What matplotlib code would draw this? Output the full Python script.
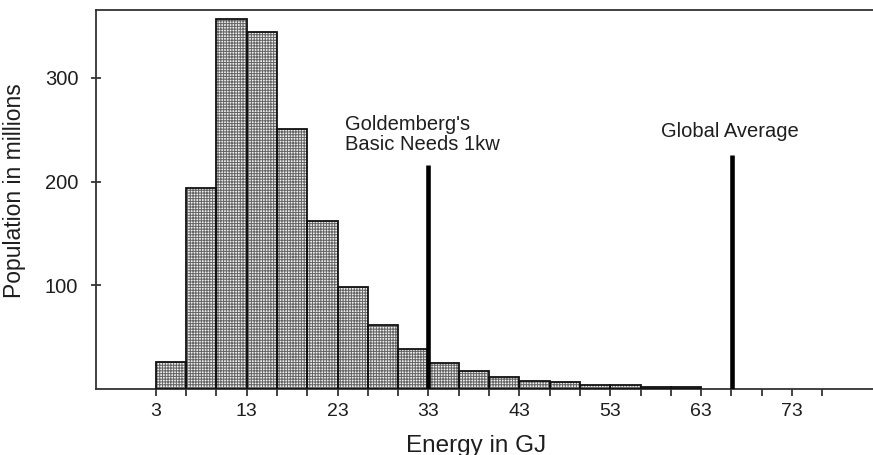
import matplotlib
matplotlib.use("Agg")
import matplotlib.pyplot as plt

# Population distribution by per-capita energy use
bin_left = [3.0, 6.333, 9.667, 13.0, 16.333, 19.667, 23.0, 26.333, 29.667,
            33.0, 36.333, 39.667, 43.0, 46.333, 49.667, 53.0, 56.333, 59.667]
bin_width = 10 / 3
population = [26, 194, 357, 344, 251, 162, 98, 62, 39,
              25, 17, 12, 8, 6.5, 4, 4, 2.2, 2.2]

# Reference markers
marker_x = [33.0, 66.4]
marker_top = [216, 226]

x_major = [3, 13, 23, 33, 43, 53, 63, 73]
x_minor = [6.333, 9.667, 16.333, 19.667, 26.333, 29.667, 36.333, 39.667,
           46.333, 49.667, 56.333, 59.667, 66.333, 69.667, 76.333]
y_ticks = [100, 200, 300]

plt.rcParams["font.family"] = ["Liberation Sans", "DejaVu Sans"]
plt.rcParams["hatch.linewidth"] = 0.75
plt.rcParams["hatch.color"] = "#666666"

fig = plt.figure(figsize=(8.73, 4.55), dpi=100)
ax = fig.add_axes([95.7 / 873, 66 / 455, 1 - 95.7 / 873, 379 / 455])

# hatched fill, then black outlines on top
ax.bar(bin_left, population, width=bin_width, align="edge",
       facecolor="#f3f3f3", hatch="++++++", linewidth=0, zorder=2)
ax.bar(bin_left, population, width=bin_width, align="edge",
       fill=False, edgecolor="#111111", linewidth=1.3, zorder=3)

ax.vlines(marker_x, 0, marker_top, colors="black", linewidth=3.3, zorder=4)

ax.text(23.8, 249.5, "Goldemberg's", fontsize=14.5, color="#1e1e1e",
        va="baseline", ha="left")
ax.text(23.8, 230.5, "Basic Needs 1kw", fontsize=14.5, color="#1e1e1e",
        va="baseline", ha="left")
ax.text(58.6, 243.3, "Global Average", fontsize=14.5, color="#1e1e1e",
        va="baseline", ha="left")

ax.set_xlim(-3.6, 81.9)
ax.set_ylim(0, 365.5)

ax.set_xticks(x_major)
ax.set_xticklabels([str(v) for v in x_major])
ax.set_xticks(x_minor, minor=True)
ax.set_yticks(y_ticks)
ax.set_yticklabels([str(v) for v in y_ticks])

ax.tick_params(axis="x", which="both", direction="out", length=5,
               width=1.2, color="#222222", pad=5, labelsize=14,
               labelcolor="#1e1e1e")
ax.tick_params(axis="y", which="both", direction="inout", length=7,
               width=1.2, color="#222222", pad=9, labelsize=14.5,
               labelcolor="#1e1e1e")

for side in ["left", "bottom", "top"]:
    ax.spines[side].set_linewidth(1.3)
    ax.spines[side].set_color("#333333")
ax.spines["right"].set_visible(False)

fig.text(476 / 873, 1 - 451.7 / 455, "Energy in GJ", fontsize=17.5,
         color="#1e1e1e", ha="center", va="baseline")
fig.text(14.5 / 873, 1 - 190.7 / 455, "Population in millions", fontsize=16.5,
         color="#1e1e1e", ha="center", va="center", rotation=90)

fig.savefig("out.png", dpi=100)
